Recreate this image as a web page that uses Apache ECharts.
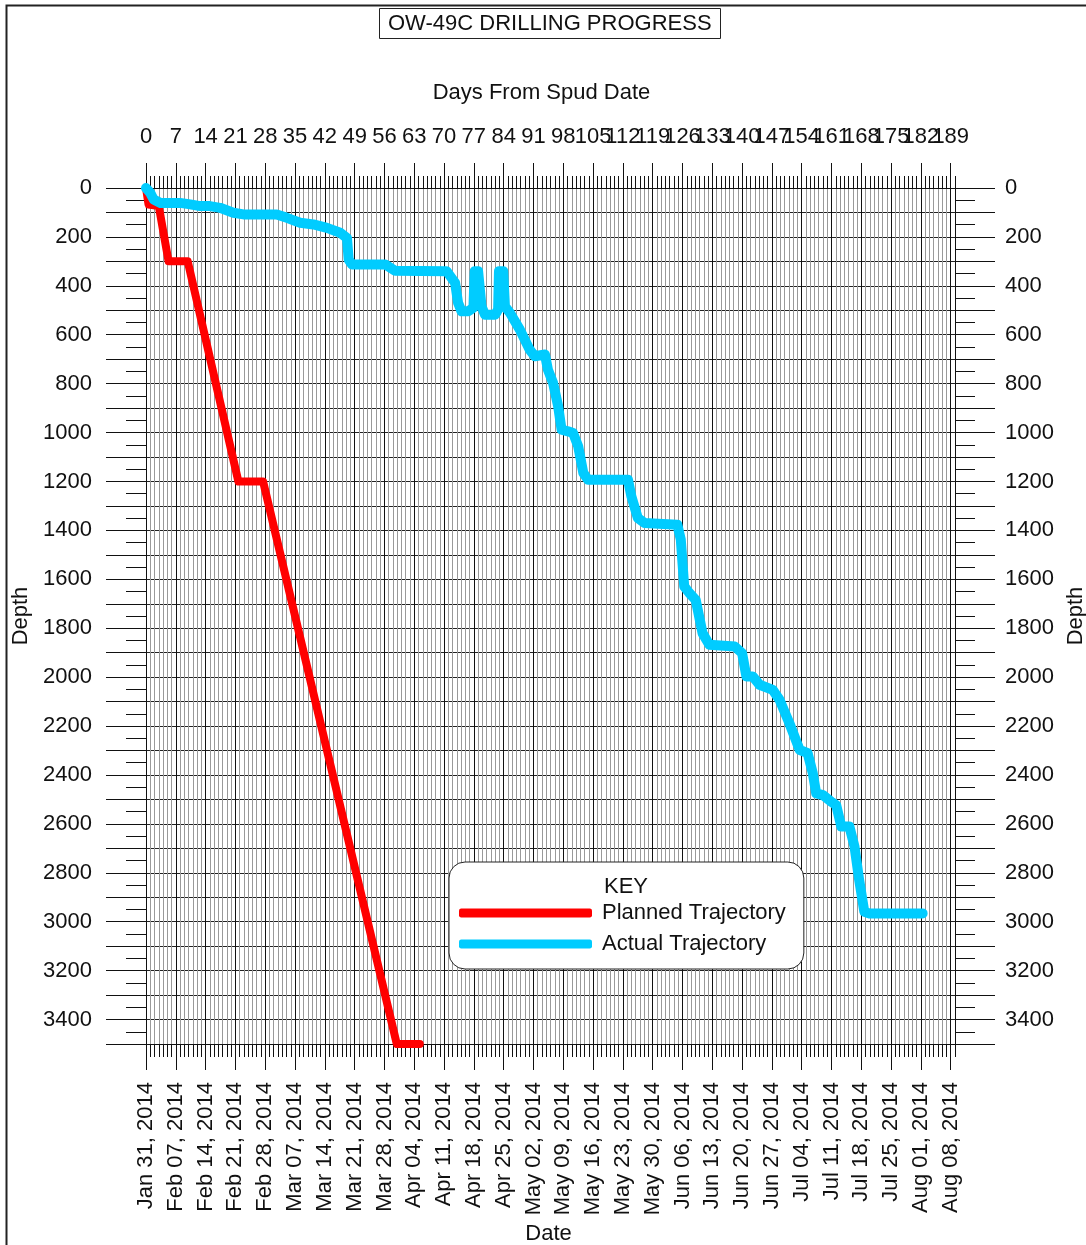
<!DOCTYPE html>
<html>
<head>
<meta charset="utf-8">
<script src="https://cdn.jsdelivr.net/npm/echarts@6/dist/echarts.min.js"></script>
<style>
html, body { margin: 0; padding: 0; background: #fff; }
#chart { width: 1086px; height: 1245px; }
</style>
</head>
<body>
<div id="chart"></div>
<script>
// tick labels
var dayTicks = [0, 7, 14, 21, 28, 35, 42, 49, 56, 63, 70, 77, 84, 91, 98, 105, 112, 119, 126, 133, 140, 147, 154, 161, 168, 175, 182, 189]
var dateLabels = ['Jan 31, 2014', 'Feb 07, 2014', 'Feb 14, 2014', 'Feb 21, 2014', 'Feb 28, 2014', 'Mar 07, 2014', 'Mar 14, 2014',
    'Mar 21, 2014', 'Mar 28, 2014', 'Apr 04, 2014', 'Apr 11, 2014', 'Apr 18, 2014', 'Apr 25, 2014', 'May 02, 2014',
    'May 09, 2014', 'May 16, 2014', 'May 23, 2014', 'May 30, 2014', 'Jun 06, 2014', 'Jun 13, 2014', 'Jun 20, 2014',
    'Jun 27, 2014', 'Jul 04, 2014', 'Jul 11, 2014', 'Jul 18, 2014', 'Jul 25, 2014', 'Aug 01, 2014', 'Aug 08, 2014']
var depthLabels = [0, 200, 400, 600, 800, 1000, 1200, 1400, 1600, 1800, 2000, 2200, 2400, 2600, 2800, 3000, 3200, 3400]

// planned trajectory (days from spud, depth)
var plannedDays = [0, 0.6, 3, 5.3, 9.8, 21.7, 27.5, 58.9, 64.3]
var plannedDepth = [0, 68, 74, 300, 300, 1200, 1200, 3500, 3500]

// actual trajectory
var actualDays = [0, 1, 1.8, 3.4, 8, 10.4, 12.7, 15, 17.4, 20.5, 22.9, 30.7, 33.1, 36.2, 39.3, 42.5, 45.6, 47.2, 47.6, 48.4,
    56.2, 58.5, 70.6, 72.6, 73.3, 74.1, 75.7, 76.9, 77.2, 78, 78.8, 79.6, 82, 82.7, 82.9, 83.9, 84.3, 85.5, 87.8, 90.1,
    91.3, 93.7, 94.4, 95.6, 96.8, 97.6, 99.1, 100.3, 101.5, 102.7, 103.8, 113.2, 114, 115.5, 117.1, 124.8, 125.6, 126.4,
    127.6, 129.1, 130.7, 132.3, 138.3, 140, 141, 142.5, 144.1, 147.2, 148.8, 151.1, 153.5, 155.4, 156.6, 157.4, 159,
    160.9, 162.1, 163.3, 165.2, 166.4, 167.5, 168.7, 169.9, 182.4]
var actualDepth = [0, 20, 47, 61, 61, 67, 74, 74, 81, 101, 108, 108, 122, 142, 149, 163, 183, 204, 293, 313,
    313, 338, 340, 388, 470, 504, 504, 489, 340, 340, 484, 518, 518, 497, 340, 340, 484, 511, 579, 661,
    688, 681, 743, 797, 893, 988, 995, 1002, 1056, 1165, 1193, 1193, 1261, 1349, 1370, 1377, 1438, 1629,
    1656, 1684, 1820, 1868, 1875, 1902, 1997, 1997, 2031, 2052, 2093, 2188, 2297, 2311, 2393, 2475, 2482,
    2509, 2523, 2611, 2611, 2693, 2830, 2959, 2966, 2966]

var font = '"Liberation Sans", Arial, sans-serif'
var ink = '#111'

function pairs (xs, ys) {
    var out = []
    xs.forEach(function (x, i) { out.push([x, ys[i]]) })
    return out
}

// plain axis used only for short ticks / fine gridlines
function tickAxis (position, max, interval, len, grid) {
    return {
        type: 'value', position: position, min: 0, max: max, interval: interval,
        inverse: position === 'left' || position === 'right',
        axisLine: { show: false, onZero: false },
        axisTick: { show: true, inside: false, length: len, lineStyle: { color: ink } },
        axisLabel: { show: false },
        splitLine: { show: !!grid, lineStyle: { color: '#999', width: 1 } }
    }
}

var myChart = echarts.init(document.getElementById('chart'))

var option = {
    backgroundColor: '#fff',
    animation: false,
    title: {
        text: 'OW-49C DRILLING PROGRESS',
        left: 379,
        top: 8,
        padding: [5, 9, 4, 9],
        borderColor: '#222',
        borderWidth: 1,
        textStyle: { fontSize: 22, fontWeight: 'normal', color: ink, fontFamily: font }
    },
    legend: {
        orient: 'vertical',
        left: 449,
        top: 862,
        padding: [40, 18, 14, 10],
        itemGap: 9,
        itemWidth: 133,
        itemHeight: 9,
        icon: 'roundRect',
        selectedMode: false,
        backgroundColor: '#fff',
        borderColor: '#222',
        borderWidth: 1,
        borderRadius: 16,
        textStyle: { fontSize: 22, color: ink, fontFamily: font, padding: [0, 0, 0, 5] },
        data: ['Planned Trajectory', 'Actual Trajectory']
    },
    graphic: [
        {
            type: 'rect',
            silent: true,
            shape: { x: 6.5, y: 5.5, width: 2000, height: 2000 },
            style: { fill: 'none', stroke: '#222', lineWidth: 2 }
        },
        {
            type: 'text',
            left: 604,
            top: 876,
            z: 100,
            style: { text: 'KEY', fontSize: 22, fill: ink, fontFamily: font }
        }
    ],
    grid: {
        left: 146,
        top: 188,
        width: 809,
        height: 856,
        containLabel: false,
        outerBoundsMode: 'none'
    },
    xAxis: [
        tickAxis('top', 190, 1, 12, true),
        tickAxis('bottom', 190, 1, 13, false),
        {
            // weekly lines, days from spud
            type: 'value', position: 'top', min: 0, max: 190, interval: 7,
            name: 'Days From Spud Date',
            nameLocation: 'middle',
            nameGap: 84,
            nameTextStyle: { fontSize: 22, color: ink, fontFamily: font, padding: [0, 18, 0, 0] },
            axisLine: { show: true, onZero: false, lineStyle: { color: ink } },
            axisTick: { show: true, length: 25, customValues: dayTicks, lineStyle: { color: ink } },
            axisLabel: {
                customValues: dayTicks.concat([190]),
                margin: 40,
                fontSize: 22,
                color: ink,
                fontFamily: font,
                showMaxLabel: false,
                formatter: function (v) { return dayTicks.indexOf(v) >= 0 ? String(v) : '' }
            },
            splitLine: { show: true, lineStyle: { color: '#111', width: 1 } }
        },
        {
            // weekly ticks, dates
            type: 'value', position: 'bottom', min: 0, max: 190, interval: 7,
            name: 'Date',
            nameLocation: 'middle',
            nameGap: 174,
            nameTextStyle: { fontSize: 22, color: ink, fontFamily: font, padding: [0, 4, 0, 0] },
            axisLine: { show: true, onZero: false, lineStyle: { color: ink } },
            axisTick: { show: true, length: 26, customValues: dayTicks, lineStyle: { color: ink } },
            axisLabel: {
                customValues: dayTicks,
                rotate: 90,
                margin: 38,
                fontSize: 22,
                color: ink,
                fontFamily: font,
                showMaxLabel: true,
                formatter: function (v) {
                    var i = dayTicks.indexOf(v)
                    return i >= 0 ? dateLabels[i] : ''
                }
            },
            splitLine: { show: false }
        }
    ],
    yAxis: [
        tickAxis('left', 3500, 50, 20, false),
        tickAxis('right', 3500, 50, 20, false),
        {
            type: 'value', position: 'left', inverse: true, min: 0, max: 3500, interval: 100,
            name: 'Depth',
            nameLocation: 'middle',
            nameGap: 114,
            nameRotate: 90,
            nameTextStyle: { fontSize: 22, color: ink, fontFamily: font },
            axisLine: { show: true, onZero: false, lineStyle: { color: ink } },
            axisTick: { show: true, length: 40, lineStyle: { color: ink } },
            axisLabel: {
                margin: 54, fontSize: 22, color: ink, fontFamily: font,
                formatter: function (v) { return depthLabels.indexOf(v) >= 0 ? String(v) : '' }
            },
            splitLine: { show: true, lineStyle: { color: '#222', width: 1 } }
        },
        {
            type: 'value', position: 'right', inverse: true, min: 0, max: 3500, interval: 100,
            name: 'Depth',
            nameLocation: 'middle',
            nameGap: 110,
            nameRotate: 90,
            nameTextStyle: { fontSize: 22, color: ink, fontFamily: font },
            axisLine: { show: true, onZero: false, lineStyle: { color: ink } },
            axisTick: { show: true, length: 40, lineStyle: { color: ink } },
            axisLabel: {
                margin: 50, fontSize: 22, color: ink, fontFamily: font,
                formatter: function (v) { return depthLabels.indexOf(v) >= 0 ? String(v) : '' }
            },
            splitLine: { show: false }
        }
    ],
    series: [
        {
            name: 'Planned Trajectory',
            type: 'line',
            xAxisIndex: 2,
            yAxisIndex: 2,
            color: '#ff0000',
            showSymbol: false,
            symbol: 'none',
            lineStyle: { width: 8, color: '#ff0000', cap: 'round', join: 'round' },
            z: 5,
            data: pairs(plannedDays, plannedDepth)
        },
        {
            name: 'Actual Trajectory',
            type: 'line',
            xAxisIndex: 2,
            yAxisIndex: 2,
            color: '#00ccff',
            showSymbol: false,
            symbol: 'none',
            lineStyle: { width: 10, color: '#00ccff', cap: 'round', join: 'round' },
            z: 6,
            data: pairs(actualDays, actualDepth)
        }
    ]
}

myChart.setOption(option)
</script>
</body>
</html>
